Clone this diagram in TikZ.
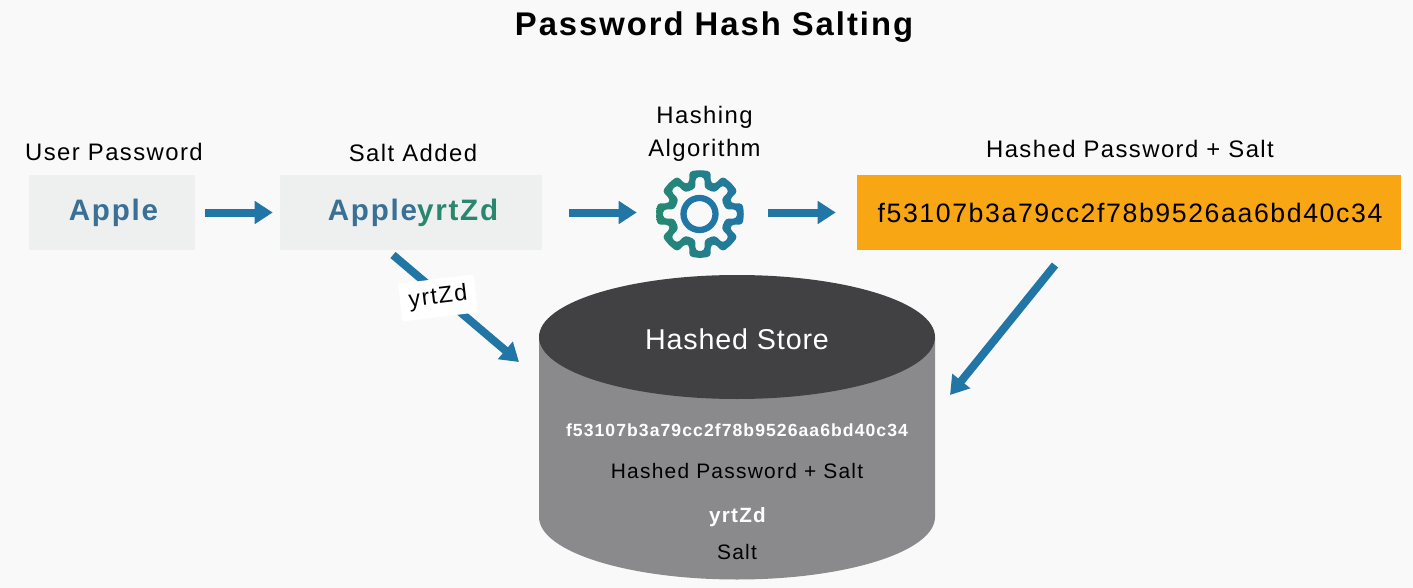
\documentclass[tikz,border=0pt]{standalone}
\usepackage{fontspec}
\setmainfont[LetterSpace=6]{Liberation Sans}
\usetikzlibrary{arrows.meta}
\definecolor{bg}{HTML}{F9F9F9}
\definecolor{boxgrey}{HTML}{EEF0F0}
\definecolor{arrowblue}{HTML}{2176A5}
\definecolor{txtblue}{HTML}{3A7096}
\definecolor{txtgreen}{HTML}{2A866E}
\definecolor{hashorange}{HTML}{F9A614}
\definecolor{dbtop}{HTML}{414042}
\definecolor{dbbody}{HTML}{8A8A8C}
\definecolor{gearleft}{HTML}{25896F}
\definecolor{gearright}{HTML}{2176A5}
\newcommand{\fs}[1]{\fontsize{#1}{#1}\selectfont}
\newcommand{\gearloop}[4]{% tip radius, root radius, tip half angle, root half angle
  (90:#1) \foreach \a in {90,45,0,-45,-90,-135,-180,-225}{
    -- (\a-#3:#1) -- (\a-#4:#2) -- (\a-45+#4:#2) -- (\a-45+#3:#1) -- (\a-45:#1)
  }}
\tikzset{
  x=0.75pt,y=-0.75pt,
  arr/.style={draw=arrowblue,line width=6pt,-{Triangle[length=13.5pt,width=16.5pt]}},
  caption/.style={inner sep=0pt,text=black,font=\fs{17.9},align=center},
  inbox/.style={inner sep=0pt,minimum height=55.5pt},
}
\begin{document}
\begin{tikzpicture}
\useasboundingbox (0,0) rectangle (1413,588);
\fill[bg] (0,0) rectangle (1413,588);
\node[inner sep=0pt,font=\fs{24.6}\bfseries] (title) at (714,27) {Password Hash Salting};
\node[caption] (capuser) at (114,152) {User Password};
\node[caption] (capsalt) at (413,153) {Salt Added};
\node[caption,text width=110pt] (capalg) at (704.5,134) {Hashing\\[7pt]Algorithm};
\node[caption] (caphash) at (1130,149) {Hashed Password + Salt};
\node[inbox,fill=boxgrey,minimum width=124.5pt] (apple) at (112,212.5) {};
\node[inbox,fill=boxgrey,minimum width=196.5pt] (salt) at (411,212.5) {};
\node[inner sep=0pt,font=\fs{22.2}\bfseries,text=txtblue] (appletext) at (113.5,213) {Apple};
\node[inner sep=0pt,font=\fs{22.2}\bfseries,text=txtblue] (salttext) at (413,213) {Apple\textcolor{txtgreen}{yrtZd}};
\node[inbox,fill=hashorange,minimum width=408pt] (hash) at (1129,212.5) {};
\node[inner sep=0pt,font=\fs{20},text=black] (hashtext) at (1130,212.5) {f53107b3a79cc2f78b9526aa6bd40c34};
% gear
\node[circle,minimum size=66pt,inner sep=0pt] (gear) at (699,212.5) {};
\begin{scope}[shift={(700,214)}]
\shade[left color=gearleft,right color=gearright,even odd rule,rounded corners=2.5pt]
  \gearloop{44}{33}{14}{19} \gearloop{37}{26}{7}{10};
\draw[gearright,line width=4.7pt] (-0.5,0) circle (16);
\end{scope}
% cylinder
\fill[dbbody] (539,337) -- (539,517) arc[start angle=180,end angle=360,x radius=198,y radius=-62.5] -- (935,337) -- cycle;
\fill[dbtop] (737,337) ellipse[x radius=198,y radius=62];
\coordinate (storeL) at (519,362);
\coordinate (storeR) at (950,395);
\node[inner sep=0pt,text=white,font=\fs{21.5}\addfontfeature{LetterSpace=3}] (storename) at (737,339) {Hashed Store};
\node[inner sep=0pt,text=white,font=\fs{13.2}\bfseries] (storehash) at (737,430) {f53107b3a79cc2f78b9526aa6bd40c34};
\node[inner sep=0pt,text=black,font=\fs{15.7}] (storecap) at (737,471) {Hashed Password + Salt};
\node[inner sep=0pt,text=white,font=\fs{15.5}\bfseries] (storesalt) at (737.5,517) {yrtZd};
\node[inner sep=0pt,text=black,font=\fs{15.7}] (storesaltcap) at (737,552) {Salt};
% connectors
\draw[arr,shorten <=7.5pt,shorten >=5.25pt] (apple.east) -- (salt.west);
\draw[arr,shorten <=20.25pt,shorten >=13.5pt] (salt.east) -- (gear.west);
\draw[arr,shorten <=18.75pt,shorten >=15.75pt] (gear.east) -- (hash.west);
\coordinate (saltout) at (393,255);
\coordinate (hashout) at (1055,265);
\draw[arr] (saltout) -- (storeL);
\draw[arr] (hashout) -- (storeR);
\node[fill=white,rotate=7,inner sep=0pt,minimum width=57pt,minimum height=28.5pt,font=\fs{17.5}] (saltlabel) at (438,298) {yrtZd};
\end{tikzpicture}
\end{document}
